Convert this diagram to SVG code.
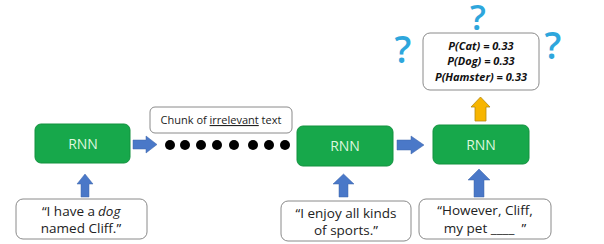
<svg xmlns="http://www.w3.org/2000/svg" width="604" height="244" viewBox="0 0 604 244">
<style>
.rnn{fill:#17a84b;stroke:#13923f;stroke-width:1}
.rnnt{font-family:"Open Sans","Liberation Sans",sans-serif;font-size:14px;fill:#dff7df;text-anchor:middle}
.box{fill:#fff;stroke:#8a8a8a;stroke-width:1}
.qt{font-family:"Open Sans","Liberation Sans",sans-serif;font-size:13.5px;fill:#222}
.mid{text-anchor:middle}
.pt{font-family:"Open Sans","Liberation Sans",sans-serif;font-size:11px;font-weight:bold;font-style:italic;fill:#111;text-anchor:middle}
.arr{fill:#4a78c8;stroke:#3d64ab;stroke-width:0.5}
.q{font-family:"Open Sans","Liberation Sans",sans-serif;font-size:37px;font-weight:600;fill:#2ea6dc;text-anchor:middle}
</style>
<rect width="604" height="244" fill="#fff"/>
<g id="q-marks">
<text class="q" x="478" y="30" style="font-size:35px">?</text>
<text class="q" x="403" y="63">?</text>
<text class="q" x="553" y="59">?</text>
</g>
<g id="rnn1"><rect class="rnn" x="35" y="124" width="95" height="39" rx="6"/><text class="rnnt" x="83" y="149">RNN</text></g>
<g id="rnn2"><rect class="rnn" x="297" y="126" width="96" height="40" rx="6"/><text class="rnnt" x="345" y="151">RNN</text></g>
<g id="rnn3"><rect class="rnn" x="433" y="125" width="96" height="39" rx="6"/><text class="rnnt" x="481" y="150">RNN</text></g>
<g id="in1"><rect class="box" x="16" y="199" width="131" height="40" rx="7"/>
<text class="qt" x="95" y="216" style="text-anchor:end">“I have a</text>
<text class="qt" x="98" y="216" style="text-anchor:start;font-style:italic">dog</text>
<text class="qt mid" x="81" y="233">named Cliff.”</text></g>
<g id="in2"><rect class="box" x="281" y="201" width="130" height="40" rx="7"/>
<text class="qt mid" x="346" y="218">“I enjoy all kinds</text>
<text class="qt mid" x="346" y="235">of sports.”</text></g>
<g id="in3"><rect class="box" x="419" y="199" width="132" height="40" rx="7"/>
<text class="qt mid" x="485" y="215">“However, Cliff,</text>
<text class="qt mid" x="485" y="233" xml:space="preserve">my pet ____  ”</text></g>
<g id="chunk"><rect class="box" x="150" y="107" width="142" height="26" rx="5"/>
<text x="221" y="124" font-family="'Open Sans','Liberation Sans',sans-serif" font-size="11px" fill="#222" text-anchor="middle">Chunk of <tspan text-decoration="underline">irrelevant</tspan> text</text></g>
<g id="probs"><rect class="box" x="423" y="33" width="116" height="57" rx="7"/>
<text class="pt" x="481" y="50">P(Cat) = 0.33</text>
<text class="pt" x="481" y="65">P(Dog) = 0.33</text>
<text class="pt" x="481" y="81">P(Hamster) = 0.33</text></g>
<g id="dots" fill="#000">
<circle cx="170" cy="145" r="5"/><circle cx="185" cy="145" r="5"/><circle cx="201" cy="145" r="5"/><circle cx="217" cy="145" r="5"/><circle cx="234" cy="145" r="5"/><circle cx="253" cy="145" r="5"/><circle cx="269" cy="145" r="5"/><circle cx="285" cy="145" r="5"/>
</g>
<g id="connectors">
<path class="arr" d="M133,140 H146 V136 L157,144.5 L146,153 V149 H133 Z"/>
<path class="arr" d="M397,140 H411 V136 L424,145 L411,154 V150 H397 Z"/>
<path class="arr" d="M81,197 V184 H77 L85,174 L93,184 H89 V197 Z"/>
<path class="arr" d="M339,197 V184 H333 L343.5,174 L354,184 H348 V197 Z"/>
<path class="arr" d="M474,197 V180 H468 L479,169 L490,180 H484 V197 Z"/>
<path d="M475,121 V107 H471 L480.5,97 L490,107 H486 V121 Z" fill="#f7b500" stroke="#b58a10" stroke-width="0.8"/>
</g>
</svg>
